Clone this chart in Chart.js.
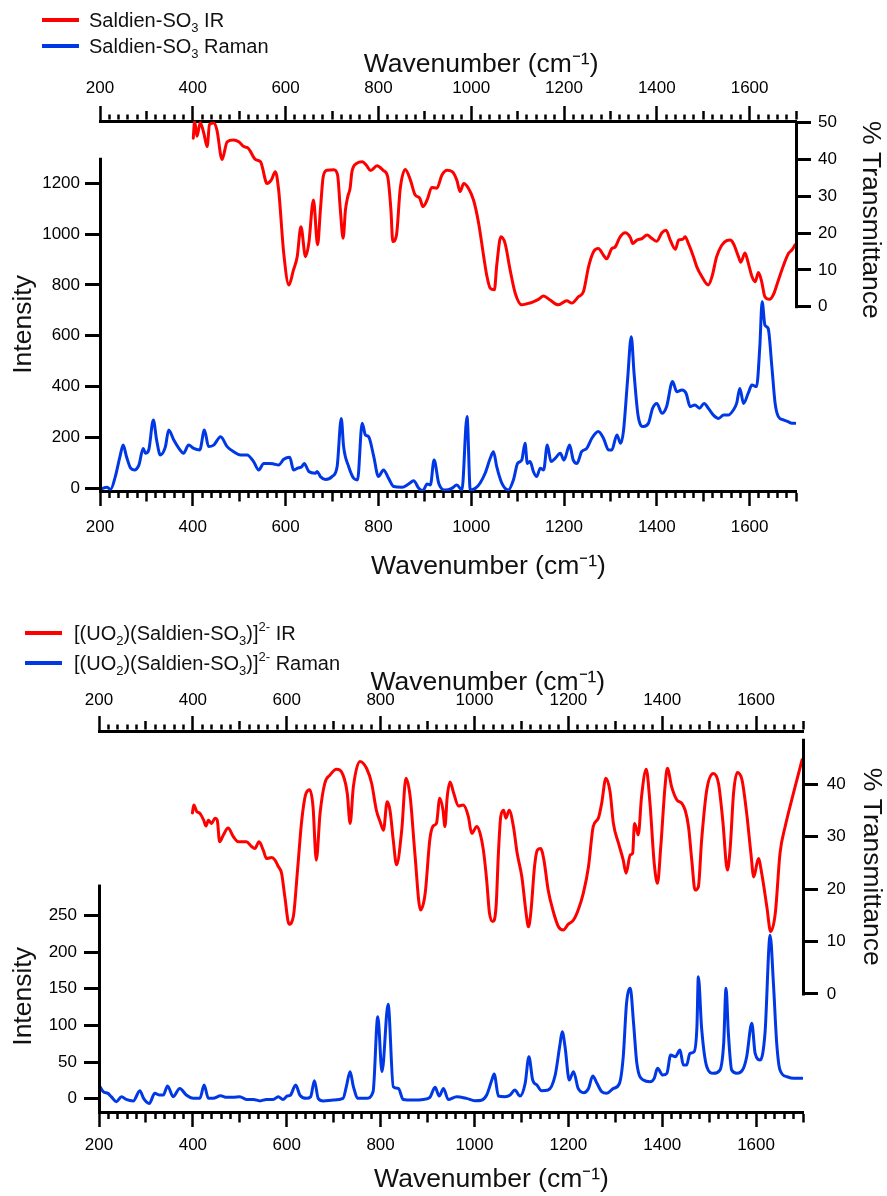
<!DOCTYPE html>
<html>
<head>
<meta charset="utf-8">
<script src="https://cdn.jsdelivr.net/npm/chart.js@4/dist/chart.umd.min.js"></script>
<style>
html,body{margin:0;padding:0;background:#fff;}
body{width:887px;height:1196px;position:relative;overflow:hidden;font-family:"Liberation Sans",Arial,Helvetica,sans-serif;}
.wrap{position:absolute;left:0;width:887px;}
canvas{display:block;}
.legtxt{position:absolute;font-size:20px;line-height:24px;color:#111;white-space:nowrap;}
.legtxt sub{font-size:13px;vertical-align:-5px;line-height:0;}
.legtxt sup{font-size:13px;vertical-align:9px;line-height:0;}
.sw{position:absolute;height:4px;}
</style>
</head>
<body>
<div class="wrap" style="top:0;height:590px"><canvas id="c1" width="887" height="590"></canvas></div>
<div class="wrap" style="top:600px;height:596px"><canvas id="c2" width="887" height="596"></canvas></div>
<div id="legends"></div>
<script>
// ---------------- data ----------------
const X_TICK_LABELS = [200,400,600,800,1000,1200,1400,1600];
const P1_INT_TICKS = [0,200,400,600,800,1000,1200];
const P1_T_TICKS = [0,10,20,30,40,50];
const P2_INT_TICKS = [0,50,100,150,200,250];
const P2_T_TICKS = [0,10,20,30,40];

const SERIES_NAMES = {
  ir1: 'Saldien-SO<sub>3</sub> IR',
  ra1: 'Saldien-SO<sub>3</sub> Raman',
  ir2: '[(UO<sub>2</sub>)(Saldien-SO<sub>3</sub>)]<sup>2-</sup> IR',
  ra2: '[(UO<sub>2</sub>)(Saldien-SO<sub>3</sub>)]<sup>2-</sup> Raman'
};

// Panel 1 IR (% transmittance)
const IR1_WN = [401,404,409,416,424,431,436,445,452,463,474,488,499,510,520,535,546,560,569,578,585,596,607,617,625,633,643,650,660,669,675,681,689,704,712,718,724,729,734,739,743,754,765,775,783,797,811,820,827,831,839,847,858,869,879,889,896,905,915,926,937,948,959,969,976,984,994,1005,1016,1027,1034,1041,1050,1055,1064,1073,1084,1095,1109,1120,1131,1145,1156,1170,1188,1206,1217,1231,1242,1253,1264,1274,1285,1292,1303,1310,1321,1332,1343,1348,1357,1368,1379,1389,1400,1411,1420,1429,1440,1447,1456,1461,1468,1479,1486,1497,1511,1519,1529,1540,1551,1558,1565,1576,1581,1590,1597,1605,1612,1619,1626,1633,1643,1651,1662,1673,1684,1691,1698];
const IR1_T = [45.8,50.4,46.3,50,47,43.5,49.5,49.9,48,40,44.8,45.3,44.8,43.5,43,40,39.4,33.5,34.4,36.7,31.7,14.5,5.9,10,13.6,21.7,13.6,17.2,29,16.8,26.3,35.3,37.1,37.2,35.8,26.3,18.6,26.3,29.9,32.2,36.7,39,39.4,38.3,37,38.3,37,35.3,26.3,17.7,19.5,32,37.3,34.4,30.4,29.5,27.2,29,32.4,32.2,35.8,37.1,36.7,34.4,31.3,33.5,32.2,29,22.7,13.6,8.2,5,4.6,11.2,19,17.2,9.9,3.6,0.5,0.8,1.2,2,2.9,1.8,0.5,1.6,1,2.7,4.1,10.9,15,15.8,14,13,15.8,16.2,19,20.1,18.8,17.2,18.1,18.5,19.5,18.6,17.8,20.1,20.8,18.1,15.6,18.1,18.3,19,17.2,13.6,10.9,8.2,5.9,8.2,13.6,16.7,18,18.1,17.2,13.6,12.1,14.6,11.9,8.2,6.8,9.3,6.8,2.7,2,3.2,7.2,11.2,14.5,15.4,16.8];

// Panel 1 Raman (intensity)
const RA1_WN = [201,215,223,233,243,250,257,266,274,284,293,298,305,315,322,330,341,348,359,370,380,391,402,415,425,434,445,460,474,488,503,517,531,542,553,564,574,585,596,609,617,626,635,640,650,664,668,675,686,700,711,720,725,736,747,755,765,772,779,790,800,811,822,833,851,865,876,887,896,905,912,920,930,944,958,969,980,991,998,1009,1019,1030,1041,1048,1055,1066,1080,1091,1100,1109,1116,1121,1127,1134,1141,1149,1156,1164,1172,1181,1192,1200,1212,1220,1228,1238,1249,1260,1274,1285,1296,1303,1314,1322,1328,1337,1345,1351,1360,1371,1382,1391,1400,1411,1421,1434,1443,1454,1463,1472,1482,1492,1502,1511,1522,1533,1544,1554,1565,1572,1579,1587,1597,1605,1615,1622,1627,1633,1640,1648,1655,1662,1673,1683,1691,1698];
const RA1_I = [-4,4,-4,46,125,170,125,79,72,92,157,138,151,269,190,131,164,229,190,157,138,170,157,151,229,164,170,203,164,144,131,131,105,72,98,98,96,92,114,122,72,79,85,98,66,59,66,46,35,46,85,275,164,85,39,33,256,210,203,125,46,72,39,7,4,17,30,0,-9,17,13,111,20,-7,0,13,-7,282,-7,0,20,59,118,144,85,20,-7,33,98,111,177,98,105,66,46,79,72,170,105,118,138,111,170,111,98,144,157,197,223,197,151,151,210,177,223,426,596,452,282,243,256,315,334,295,321,420,380,387,374,321,328,315,334,315,288,275,288,288,308,334,393,334,374,406,400,557,734,642,629,478,334,282,269,262,256,256];

// Panel 2 IR (% transmittance)
const IR2_WN = [399,402,408,415,423,428,433,440,447,452,457,465,475,486,497,514,525,532,541,550,557,568,575,582,589,596,605,614,623,632,641,649,656,663,671,681,692,706,720,729,735,742,756,770,781,791,799,806,814,820,827,834,845,854,863,873,885,895,905,912,919,926,933,937,942,948,955,966,976,987,994,1005,1012,1019,1026,1032,1039,1046,1051,1056,1062,1067,1074,1083,1091,1101,1110,1115,1120,1128,1134,1141,1148,1157,1167,1179,1189,1200,1211,1221,1232,1243,1253,1264,1271,1280,1289,1296,1307,1317,1323,1332,1337,1341,1346,1349,1356,1366,1374,1383,1390,1397,1406,1411,1420,1431,1442,1449,1456,1463,1470,1477,1484,1495,1509,1520,1529,1539,1545,1552,1560,1570,1580,1589,1595,1605,1612,1623,1631,1641,1651,1662,1676,1687,1698];
const IR2_T = [34.5,36,34.8,34.4,33.1,32,33.1,32.5,33.5,33.1,29,30.3,31.6,30,29,29,28.1,27.7,29,27.4,25.8,26,25.5,24.3,23,18.5,13.3,14.7,23.6,33.1,38.2,38.9,35.7,25.5,34.4,40.1,41.7,42.8,41.7,38.2,32.5,39.5,44.3,43,40.1,35,32.8,31.2,36.6,35,29.3,24.6,31.2,41.1,37.6,26.8,16,19.2,29.5,32,32.5,37.3,35,31.9,37.6,40.4,38.5,35.8,36,33.8,30.6,31.9,30.6,27.4,21.7,15.4,13.8,16.6,26.8,33.8,35,33.5,35,31.9,26.8,22.3,15.4,12.8,15.4,24.3,27.4,27.7,25.5,19.8,16,12.8,12.2,13.3,14.1,16,19.2,24.3,31.9,33.5,36.3,41.1,38.5,32.5,28.7,25.5,23,26.5,26.8,32.5,31.2,30.3,37.6,42.8,36.3,24.9,21.1,28.1,39.5,43,39.5,37,36.3,35,31.9,25.5,19.8,20.4,29.3,38.9,42,40.1,33.1,23.6,28,38.2,42.2,40.8,34.4,26.8,22.3,25.8,23,16.6,11.9,15.4,26.8,31.9,37,40.8,44.6];

// Panel 2 Raman (intensity)
const RA2_WN = [200,209,219,226,237,248,258,273,287,295,307,319,329,337,346,358,372,386,401,415,424,433,443,459,472,486,500,514,529,543,557,571,582,592,601,608,619,628,642,651,659,667,678,699,720,727,735,742,752,770,784,794,803,816,827,838,848,870,891,905,916,925,934,944,962,983,1001,1015,1026,1037,1042,1051,1065,1076,1086,1097,1108,1116,1124,1133,1143,1157,1172,1182,1187,1193,1202,1211,1221,1233,1243,1252,1261,1271,1282,1296,1309,1317,1324,1332,1339,1346,1360,1374,1383,1390,1401,1410,1418,1428,1438,1445,1452,1459,1468,1474,1477,1484,1495,1509,1523,1531,1536,1541,1548,1559,1573,1580,1591,1598,1609,1619,1630,1637,1644,1651,1666,1680,1698];
const RA2_I = [18.7,9.6,7.3,2.8,-4,2.8,-1,-3,11,0.5,-6.4,7.3,5,5,17.3,2.8,14,5,0.5,0.5,18.7,0.5,0.5,4,1.9,1.9,2.8,-1,-1,-3,-1,-1,2.8,-1,3.7,5,18.7,5,0.5,2.8,24.6,0.5,-3,-1.8,0.5,16.4,36.9,16.4,0.5,0.5,9.6,111.9,36.9,128.7,16.4,14,-1,-1.8,-1,1.9,15.5,3.7,14,-1,2.8,0.5,-2.7,-2,5,25.5,33.7,3.7,2.8,5,11.9,3.7,21,57.3,25.5,18.7,11,11.9,32.3,73.2,91.4,71,25.5,36.9,14,8.2,14,30.9,21,9.6,7.3,14,21,57.3,130,150.5,102.8,48.2,25.5,23.2,27.8,41.4,32.3,34.6,59.6,57.3,66.4,45.9,45.9,61.9,64.1,98.2,166.4,96,43.7,34.6,39.1,75.5,150.5,89,39.1,34.6,41.4,57.3,102.8,61.9,52.8,89,223,157,75.5,39.1,30,27.8,27.8];

// ---------------- drawing ----------------
const FONT = '"Liberation Sans", Arial, Helvetica, sans-serif';
const RED = '#ff0000';
const BLUE = '#0038e6';
const X_TITLE = 'Wavenumber (cm\u207B\u00B9)';
const Y_TITLE = 'Intensity';
const YR_TITLE = '% Transmittance';
const TITLE_SIZE = 26.5;

function pts(xs, ys) {
  const n = Math.min(xs.length, ys.length), a = [];
  for (let i = 0; i < n; i++) a.push({x: xs[i], y: ys[i]});
  return a;
}
function pad(n, s, trail) { return trail ? s + ' '.repeat(n) : ' '.repeat(n) + s; }

function tickDash(v, pos) {
  const full = 13.5;
  const r = Math.round(v);
  if (r % 200 === 0) return [];
  const d = (r % 100 === 0) ? 8.5 : 5;
  return pos === 'top' ? [0, full - d, d, 100] : [d, 100];
}

function alignPx(p, w) { return Math.round(p - w / 2) + w / 2; }

const partialAxis = {
  id: 'partialAxis',
  afterDatasetsDraw(chart, args, opts) {
    const ctx = chart.ctx;
    ctx.save();
    ctx.strokeStyle = '#000';
    ctx.lineWidth = 3;
    ctx.lineCap = 'butt';
    for (const [id, from] of opts.lines) {
      const s = chart.scales[id];
      const x = alignPx(s.position === 'left' ? s.right : s.left, 3);
      const yTop = s.getPixelForValue(from);
      const yBot = (id === 'y') ? chart.chartArea.bottom + 1.5 : s.getPixelForValue(0) + 1.5;
      ctx.beginPath();
      ctx.moveTo(x, yTop);
      ctx.lineTo(x, yBot);
      ctx.stroke();
    }
    ctx.restore();
  }
};

function xAxis(pos, g) {
  return {
    type: 'linear', position: pos, min: 200, max: 1700,
    ticks: {
      stepSize: 20, autoSkip: false, maxRotation: 0, minRotation: 0,
      color: '#000', font: {family: FONT, size: 17}, padding: g.labelPad,
      callback: v => X_TICK_LABELS.includes(Math.round(v)) ? String(Math.round(v)) : ''
    },
    grid: {
      drawOnChartArea: false, drawTicks: true, tickLength: 15, tickWidth: 2.5, tickColor: '#000',
      tickBorderDash: ctx => tickDash(ctx.tick ? ctx.tick.value : 0, pos)
    },
    border: {display: true, color: '#000', width: 3},
    title: {display: true, text: pad(g.shift, X_TITLE), align: 'center', color: '#111',
            font: {family: FONT, size: TITLE_SIZE}, padding: g.titlePad},
    afterFit: s => { s.height = g.size; }
  };
}

function yAxis(pos, g) {
  return {
    type: 'linear', position: pos, min: g.min, max: g.max,
    ticks: {
      color: '#000', font: {family: FONT, size: 17}, padding: g.labelPad,
      callback: v => String(v)
    },
    afterBuildTicks: s => { s.ticks = g.ticks.map(v => ({value: v})); },
    grid: {drawOnChartArea: false, drawTicks: true, tickLength: 15, tickWidth: 3, tickColor: '#000'},
    border: {display: false},
    title: {display: true, text: pad(g.shift, g.title, g.trail), align: g.align, color: '#111',
            font: {family: FONT, size: TITLE_SIZE}, padding: g.titlePad},
    afterFit: s => { s.width = g.size; }
  };
}

function makeChart(id, g, irX, irY, raX, raY, names) {
  return new Chart(document.getElementById(id), {
    type: 'line',
    data: {
      datasets: [
        {label: names[0], data: pts(irX, irY), borderColor: RED, xAxisID: 'x2', yAxisID: 'y2'},
        {label: names[1], data: pts(raX, raY), borderColor: BLUE, xAxisID: 'x', yAxisID: 'y'}
      ]
    },
    options: {
      responsive: false, animation: false, devicePixelRatio: 1,
      layout: {padding: 0},
      plugins: {legend: {display: false}, tooltip: {enabled: false}, partialAxis: {lines: g.lines}},
      elements: {
        point: {radius: 0},
        line: {borderWidth: 3, cubicInterpolationMode: 'monotone', fill: false, borderJoinStyle: 'round', borderCapStyle: 'round'}
      },
      scales: {
        x: xAxis('bottom', g.xb),
        x2: xAxis('top', g.xt),
        y: yAxis('left', g.yl),
        y2: yAxis('right', g.yr)
      }
    },
    plugins: [partialAxis]
  });
}

makeChart('c1', {
  xt: {size: 121, labelPad: 7.8, shift: 9, titlePad: {top: 49.1, bottom: 0}},
  xb: {size: 99, labelPad: 10.8, shift: 11, titlePad: {top: 0, bottom: 7.1}},
  yl: {size: 100, min: -10.62, max: 1444.9, ticks: P1_INT_TICKS, labelPad: 5, title: Y_TITLE, align: 'center', shift: 5, trail: true, titlePad: {top: 8.1, bottom: 0}},
  yr: {size: 91, min: -50.08, max: 50.46, ticks: P1_T_TICKS, labelPad: 7, title: YR_TITLE, align: 'end', shift: 0, titlePad: {top: 1.1, bottom: 0}},
  lines: [['y', 1300], ['y2', 50.46]]
}, IR1_WN, IR1_T, RA1_WN, RA1_I, ['Saldien-SO3 IR', 'Saldien-SO3 Raman']);

makeChart('c2', {
  xt: {size: 131, labelPad: 5.8, shift: 10, titlePad: {top: 67.1, bottom: 0}},
  xb: {size: 84, labelPad: 7.8, shift: 11, titlePad: {top: 0, bottom: 0.1}},
  yl: {size: 99, min: -18.1, max: 501.4, ticks: P2_INT_TICKS, labelPad: 7, title: Y_TITLE, align: 'start', shift: 9, titlePad: {top: 8.1, bottom: 0}},
  yr: {size: 84, min: -22.48, max: 50.1, ticks: P2_T_TICKS, labelPad: 8.7, title: YR_TITLE, align: 'end', shift: 5, titlePad: {top: 0, bottom: 0}},
  lines: [['y', 292], ['y2', 48.6]]
}, IR2_WN, IR2_T, RA2_WN, RA2_I, ['[(UO2)(Saldien-SO3)]2- IR', '[(UO2)(Saldien-SO3)]2- Raman']);

// HTML legends (text with sub/superscripts)
const LEG = [
  {y: 20, x0: 42, x1: 79, tx: 89, color: RED, key: 'ir1'},
  {y: 46, x0: 42, x1: 79, tx: 89, color: BLUE, key: 'ra1'},
  {y: 633, x0: 25, x1: 62, tx: 74, color: RED, key: 'ir2'},
  {y: 663, x0: 25, x1: 62, tx: 74, color: BLUE, key: 'ra2'}
];
const host = document.getElementById('legends');
for (const L of LEG) {
  const sw = document.createElement('div');
  sw.className = 'sw';
  sw.style.left = L.x0 + 'px'; sw.style.width = (L.x1 - L.x0) + 'px';
  sw.style.top = (L.y - 2) + 'px'; sw.style.background = L.color;
  host.appendChild(sw);
  const t = document.createElement('div');
  t.className = 'legtxt';
  t.style.left = L.tx + 'px'; t.style.top = (L.y - 12) + 'px';
  t.innerHTML = SERIES_NAMES[L.key];
  host.appendChild(t);
}
</script>
</body>
</html>
